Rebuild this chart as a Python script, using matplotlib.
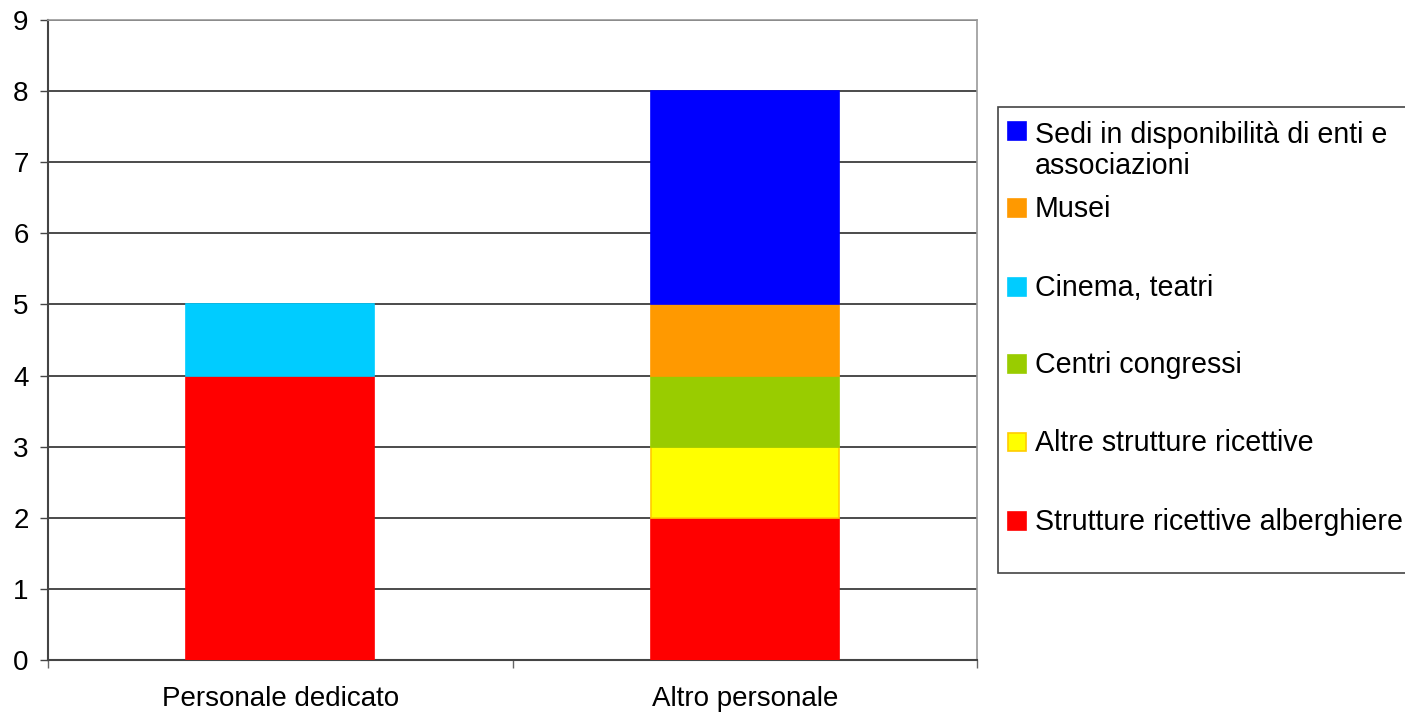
import matplotlib
matplotlib.use('Agg')
import matplotlib.pyplot as plt
from matplotlib.patches import Rectangle
import numpy as np

# Dati: categorie e serie impilate (dal basso verso l'alto)
categorie = ['Personale dedicato', 'Altro personale']
serie_nomi = ['Strutture ricettive alberghiere', 'Altre strutture ricettive',
              'Centri congressi', 'Cinema, teatri', 'Musei',
              'Sedi in disponibilità di enti e\nassociazioni']
strutture_alberghiere = [4, 2]
altre_strutture = [0, 1]
centri_congressi = [0, 1]
cinema_teatri = [1, 0]
musei = [0, 1]
sedi_enti = [0, 3]
valori = [strutture_alberghiere, altre_strutture, centri_congressi,
          cinema_teatri, musei, sedi_enti]
colori = ['#FF0000', '#FFFF00', '#99CC00', '#00CCFF', '#FF9900', '#0000FF']
bordi = ['#FF0000', '#FFCC00', '#99CC00', '#00CCFF', '#FF9900', '#0000FF']

plt.rcParams['font.family'] = ['Liberation Sans', 'DejaVu Sans']
FS = 20

W, H = 1405, 716
fig = plt.figure(figsize=(W / 100, H / 100), dpi=100)
ax = fig.add_axes([48 / W, 1 - 660 / H, (977 - 48) / W, (660 - 20) / H])

x = np.arange(len(categorie))
base = np.zeros(len(categorie))
for v, c, b in zip(valori, colori, bordi):
    v = np.array(v, dtype=float)
    ax.bar(x, v, width=0.405, bottom=base, color=c,
           edgecolor=[b if val > 0 else 'none' for val in v],
           linewidth=1.2, zorder=3)
    base += v

ax.set_xlim(-0.5, 1.5)
ax.set_ylim(0, 9)
ax.set_yticks(range(0, 10))
ax.tick_params(axis='y', length=6, width=1, color='#444444', pad=8, labelsize=FS)

# separatori di categoria come tick principali, etichette sui minori
ax.set_xticks([-0.5, 0.5, 1.5])
ax.set_xticklabels([])
ax.tick_params(axis='x', which='major', length=6, width=1, color='#666666')
ax.set_xticks(x, minor=True)
ax.set_xticklabels(categorie, minor=True)
ax.tick_params(axis='x', which='minor', length=0, pad=19, labelsize=FS)

ax.yaxis.grid(True, color='#1a1a1a', linewidth=1.1, zorder=0)
ax.set_axisbelow(True)
for s in ['top', 'right']:
    ax.spines[s].set_color('#999999')
    ax.spines[s].set_linewidth(1.2)
ax.spines['left'].set_color('#444444')
ax.spines['left'].set_linewidth(1.5)
ax.spines['bottom'].set_color('#444444')
ax.spines['bottom'].set_linewidth(1.5)


def fx(px):
    return px / W


def fy(py):
    return 1 - py / H


# legenda disegnata a mano, in ordine inverso rispetto all'impilamento
fig.add_artist(Rectangle((fx(998), fy(573)), fx(1420) - fx(998), fy(107) - fy(573),
                         transform=fig.transFigure, facecolor='white',
                         edgecolor='#444444', linewidth=1.2))
centri_y = [131, 208, 287, 364, 442, 521]
for nome, c, b, cy in zip(serie_nomi[::-1], colori[::-1], bordi[::-1], centri_y):
    fig.add_artist(Rectangle((fx(1008), fy(cy + 9)), fx(18), 18 / H,
                             transform=fig.transFigure, facecolor=c,
                             edgecolor=b, linewidth=1.2))
    righe_extra = nome.count('\n')
    fig.text(fx(1035), fy(cy + 9 + 34 * righe_extra), nome, fontsize=20.6,
             va='baseline', ha='left', linespacing=1.15)

fig.savefig('out.png', dpi=100)
